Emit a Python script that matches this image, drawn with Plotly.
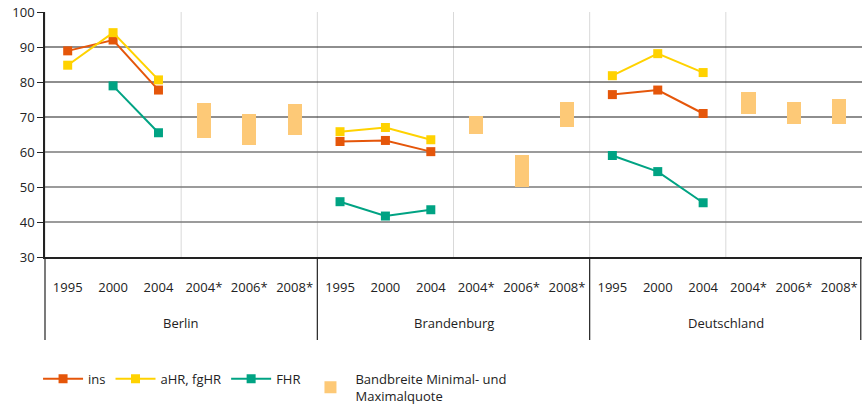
import plotly.graph_objects as go

groups = ["Berlin", "Brandenburg", "Deutschland"]
years = ["1995", "2000", "2004", "2004*", "2006*", "2008*"]
real_years = ["1995", "2000", "2004"]
band_years = ["2004*", "2006*", "2008*"]

# actual quotas (1995, 2000, 2004) per region
ins_berlin = [88.9, 92.0, 77.7]
ins_brandenburg = [63.0, 63.3, 60.1]
ins_deutschland = [76.4, 77.7, 71.0]

ahr_berlin = [84.8, 94.1, 80.6]
ahr_brandenburg = [65.8, 67.0, 63.5]
ahr_deutschland = [81.8, 88.1, 82.7]

fhr_berlin = [None, 78.9, 65.5]
fhr_brandenburg = [45.8, 41.7, 43.5]
fhr_deutschland = [59.0, 54.4, 45.5]

# projected bandwidth (min / max) for 2004*, 2006*, 2008*
band_min_berlin = [63.9, 61.9, 64.8]
band_max_berlin = [74.1, 70.9, 73.7]
band_min_brandenburg = [65.1, 49.9, 67.1]
band_max_brandenburg = [70.2, 59.1, 74.2]
band_min_deutschland = [70.9, 68.0, 68.0]
band_max_deutschland = [77.1, 74.2, 75.1]

y_ticks = [30, 40, 50, 60, 70, 80, 90, 100]

C_INS = "#E5560A"
C_AHR = "#FFD200"
C_FHR = "#00A383"
C_BAND = "#FDC977"
C_TXT = "#222222"

# unique category keys (group + year), shown with the year only
cats = [f"{g} {y}" for g in groups for y in years]
cat_text = [y for _ in groups for y in years]
real_cats = [f"{g} {y}" for g in groups for y in real_years]
band_cats = [f"{g} {y}" for g in groups for y in band_years]


def series(per_group):
    vals = dict(zip(real_cats, [v for s in per_group for v in s]))
    return list(cats), [vals.get(c) for c in cats]


bmin = band_min_berlin + band_min_brandenburg + band_min_deutschland
bmax = band_max_berlin + band_max_brandenburg + band_max_deutschland

font = "Open Sans, Liberation Sans, sans-serif"

fig = go.Figure()
for name, per_group, col, rank in [
        ("ins", [ins_berlin, ins_brandenburg, ins_deutschland], C_INS, 1),
        ("aHR, fgHR", [ahr_berlin, ahr_brandenburg, ahr_deutschland], C_AHR, 2),
        ("FHR", [fhr_berlin, fhr_brandenburg, fhr_deutschland], C_FHR, 3)]:
    xs, ys = series(per_group)
    fig.add_trace(go.Scatter(
        x=xs, y=ys, mode="lines+markers", name=name,
        line=dict(color=col, width=2), connectgaps=False,
        marker=dict(symbol="square", size=9, color=col), legendrank=rank,
    ))
fig.add_trace(go.Bar(
    x=band_cats, y=[b - a for a, b in zip(bmin, bmax)], base=bmin,
    marker=dict(color=C_BAND, line=dict(width=0)), width=0.31,
    name="Bandbreite Minimal- und<br>Maximalquote", legendrank=4,
))

shapes = []
annotations = []
n = len(cats)
ng = len(groups)
# faint vertical separators every 3 categories inside the plot
for k in range(0, n, 3):
    shapes.append(dict(type="line", xref="paper", yref="y", x0=k / n, x1=k / n,
                       y0=30, y1=100, line=dict(color="#d9d9d9", width=1), layer="below"))
# horizontal grid lines
for t in y_ticks[1:-1]:
    col = "#1e1e1e" if t >= 70 else "#7a7a7a"
    w = 1.2 if t >= 70 else 1.6
    shapes.append(dict(type="line", xref="paper", yref="y", x0=0, x1=1, y0=t, y1=t,
                       line=dict(color=col, width=w), layer="below"))
# group dividers below the axis
for gi in range(ng + 1):
    xf = gi / ng
    if gi == ng:
        xf = 0.9985
    shapes.append(dict(type="line", xref="paper", yref="paper", x0=xf, x1=xf,
                       y0=0, y1=-0.339, line=dict(color=C_TXT, width=1.2)))
# group labels
for gi, g in enumerate(groups):
    annotations.append(dict(text=g, xref="paper", yref="paper", x=(gi + 0.5) / ng,
                            y=-0.269, xanchor="center", yanchor="middle",
                            showarrow=False, font=dict(size=13, color=C_TXT)))

fig.update_layout(
    width=862, height=407,
    margin=dict(l=45, r=0, t=12, b=150, autoexpand=False),
    paper_bgcolor="white", plot_bgcolor="white",
    font=dict(family=font, size=13, color=C_TXT),
    shapes=shapes, annotations=annotations,
    showlegend=True,
    legend=dict(orientation="h", x=-0.0085, y=-0.628, xanchor="left", yanchor="bottom",
                font=dict(size=13, color=C_TXT), traceorder="normal",
                itemwidth=40),
    bargap=0,
)
fig.update_yaxes(range=[30, 100], tickvals=y_ticks, showgrid=False, zeroline=False,
                 showline=True, linecolor=C_TXT, linewidth=1.5,
                 ticks="outside", ticklen=6, tickcolor=C_TXT, automargin=False,
                 ticklabeloverflow="allow",
                 tickfont=dict(size=13, color=C_TXT))
fig.update_xaxes(type="category", categoryorder="array", categoryarray=cats,
                 tickvals=cats, ticktext=cat_text, range=[-0.5, n - 0.5],
                 showgrid=False, showline=True, linecolor=C_TXT, linewidth=1.5,
                 ticks="", tickangle=0, automargin=False, ticklabelstandoff=18,
                 ticklabeloverflow="allow",
                 tickfont=dict(size=13, color=C_TXT))

# remove the browser's default 8px page margin so the figure fills the window
fig.write_html("out.html", config={"displayModeBar": False},
               post_script="document.body.style.margin='0';")
